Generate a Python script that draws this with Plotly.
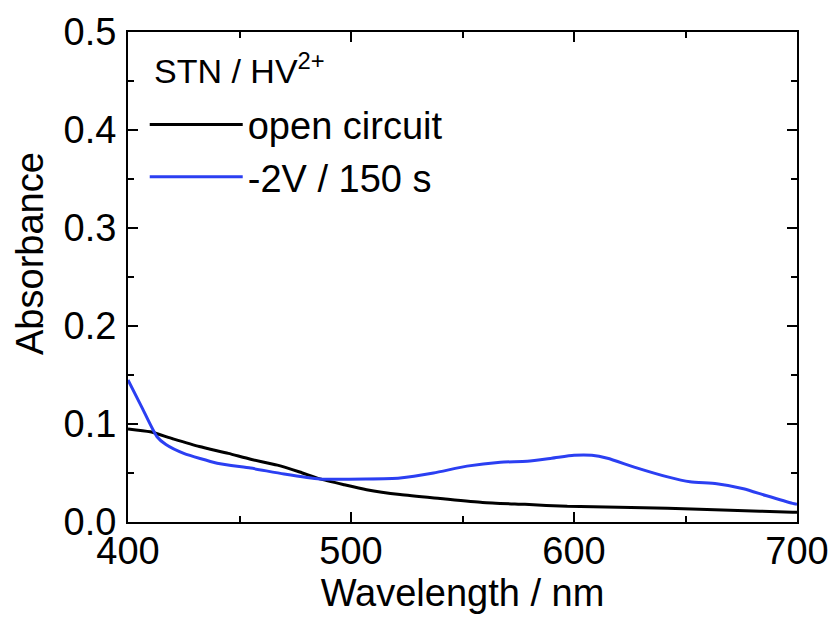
import plotly.graph_objects as go

wl_open = [400, 410, 420, 432, 445, 455, 467, 477, 486, 497, 507, 522, 540, 559, 578, 597, 620, 642, 670, 698, 700]
abs_open = [0.095, 0.092, 0.085, 0.077, 0.070, 0.064, 0.058, 0.051, 0.044, 0.038, 0.033, 0.028, 0.024, 0.020, 0.018, 0.016, 0.015, 0.014, 0.012, 0.010, 0.010]

wl_blue = [400, 406, 413, 417, 425, 440, 455, 470, 486, 507, 522, 537, 552, 567, 579, 590, 600, 608, 615, 627, 642, 652, 664, 676, 686, 698, 700]
abs_blue = [0.145, 0.118, 0.087, 0.079, 0.070, 0.060, 0.055, 0.049, 0.044, 0.044, 0.045, 0.050, 0.057, 0.061, 0.062, 0.065, 0.068, 0.068, 0.065, 0.056, 0.046, 0.041, 0.039, 0.034, 0.027, 0.019, 0.018]

legend_title = "STN / HV<sup>2+</sup>"
x_title = "Wavelength / nm"
y_title = "Absorbance"

FONT = "Liberation Sans, Arial, sans-serif"

fig = go.Figure()
fig.add_trace(go.Scatter(x=wl_open, y=abs_open, mode="lines", name="open circuit",
                         legendgroup="a",
                         line=dict(color="black", width=3, shape="spline", smoothing=0.6)))
fig.add_trace(go.Scatter(x=wl_blue, y=abs_blue, mode="lines", name="-2V / 150 s",
                         legendgroup="b",
                         line=dict(color="#2B3FF2", width=3, shape="spline", smoothing=0.6)))

axis_common = dict(showline=True, linecolor="black", linewidth=2, mirror="ticks",
                   ticks="inside", ticklen=10, tickwidth=2, tickcolor="black",
                   showgrid=False, zeroline=False, automargin=False,
                   tickfont=dict(size=38, color="black", family=FONT))

fig.update_xaxes(range=[400, 700], dtick=100, tick0=400, ticklabelstandoff=-6,
                 minor=dict(dtick=50, ticks="inside", ticklen=6, tickwidth=2, tickcolor="black"),
                 title=dict(text=x_title, font=dict(size=38, color="black", family=FONT), standoff=2),
                 **axis_common)
fig.update_yaxes(range=[0, 0.5], dtick=0.1, tick0=0, tickformat=".1f", ticklabelstandoff=2,
                 minor=dict(dtick=0.05, ticks="inside", ticklen=6, tickwidth=2, tickcolor="black"),
                 **axis_common)

fig.add_annotation(text=y_title, xref="paper", yref="paper", x=-0.1465, y=0.549,
                   xanchor="center", yanchor="middle", textangle=-90, showarrow=False,
                   font=dict(size=38, family=FONT, color="black"))

fig.add_annotation(text=legend_title, xref="paper", yref="paper", x=0.036, y=0.925,
                   xanchor="left", yanchor="middle", showarrow=False,
                   font=dict(size=34, family=FONT, color="black"))

fig.update_layout(
    width=832, height=621,
    margin=dict(l=128, r=35, t=32, b=99),
    plot_bgcolor="white", paper_bgcolor="white",
    font=dict(family=FONT, color="black"),
    showlegend=True,
    legend=dict(x=0.025, y=0.875, xanchor="left", yanchor="top",
                bgcolor="rgba(0,0,0,0)", borderwidth=0,
                font=dict(size=38, family=FONT, color="black"),
                traceorder="grouped", tracegroupgap=0, itemwidth=93),
)

fig.write_html("out.html")
